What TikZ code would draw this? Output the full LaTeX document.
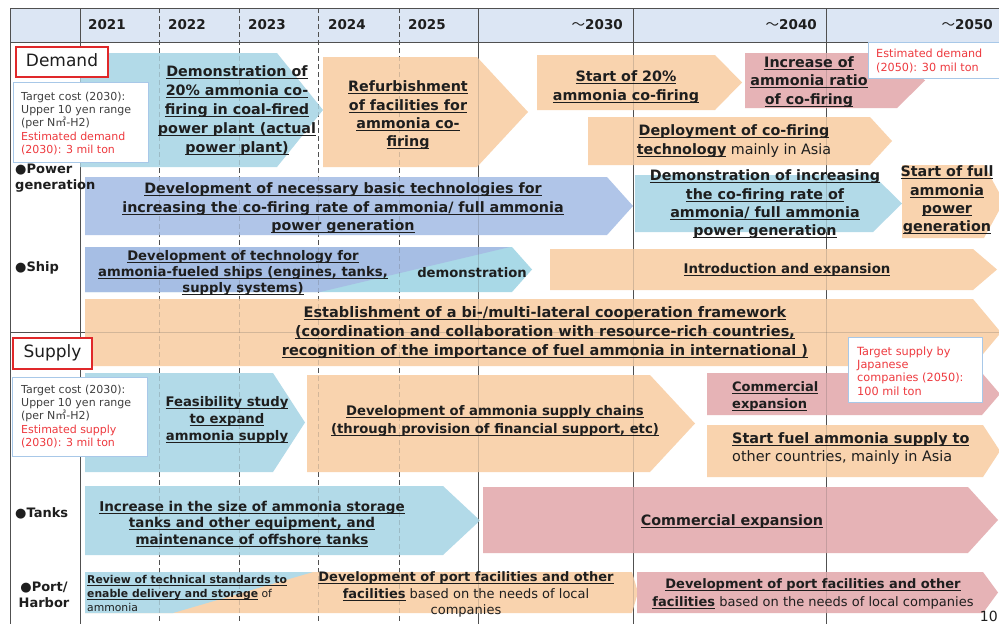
\documentclass[tikz,border=0pt]{standalone}
\usepackage{fontspec}
\setmainfont{DejaVu Sans}
\newfontfamily\cjk{Noto Sans CJK JP}
\newsavebox\ulbox
\newcommand\uln[1]{\sbox\ulbox{#1}\rlap{\rule[-2.2pt]{\wd\ulbox}{0.7pt}}\usebox\ulbox}
\newcommand\chevshape[6]{\fill[#1] (#2,#3) -- (#4,#3) -- (#5,{(#3+#6)/2}) -- (#4,#6) -- (#2,#6) -- cycle;}
\definecolor{hdr}{HTML}{DCE6F4}
\definecolor{lblue}{HTML}{B2DAE8}
\definecolor{mblue}{HTML}{B0C5E8}
\definecolor{dblue}{HTML}{A6BEE4}
\definecolor{cyanb}{HTML}{A9D9E7}
\definecolor{orng}{HTML}{F9D3AE}
\definecolor{pnk}{HTML}{E6B3B6}
\definecolor{txt}{HTML}{1E1E1E}
\definecolor{gridc}{HTML}{505050}
\definecolor{redbox}{HTML}{E0282A}
\definecolor{redtxt}{HTML}{EE3A3F}
\definecolor{graytxt}{HTML}{404040}
\definecolor{boxline}{HTML}{A8C8E8}
\newcommand\gridlines[1]{%
  \begin{scope}[opacity=#1]
  \draw[gridc, line width=0.9pt] (10,8) -- (999,8) (10,42) -- (999,42) (10,332) -- (999,332);
  \draw[gridc, line width=0.9pt] (10,8) -- (10,624) (80,8) -- (80,624) (478,8) -- (478,624) (633,8) -- (633,624) (826,8) -- (826,624);
  \draw[gridc, line width=0.9pt, dash pattern=on 5pt off 3pt] (159,8) -- (159,624) (239,8) -- (239,624) (318,8) -- (318,624) (399,8) -- (399,624);
  \end{scope}}
\tikzset{
  tx/.style 2 args={font=\fontsize{#1}{#2}\selectfont\bfseries, align=center, inner sep=0pt, text=txt},
  yr/.style={font=\fontsize{13.5}{15}\selectfont\bfseries, inner sep=0pt, text=txt},
  lbl/.style={font=\fontsize{13}{16}\selectfont\bfseries, inner sep=0pt, text=txt, align=left},
  info/.style={font=\fontsize{11}{13.3}\selectfont, align=left, inner sep=0pt, text=graytxt},
  infobox/.style={draw=boxline, fill=white, line width=0.8pt},
  redframe/.style={draw=redbox, fill=white, line width=2pt}
}
\begin{document}
\begin{tikzpicture}[x=1pt,y=-1pt]
\useasboundingbox (0,0) rectangle (999,624);
\clip (0,0) rectangle (999,624);
\fill[white] (0,0) rectangle (999,624);
\fill[hdr] (10,8) rectangle (999,42);
\gridlines{1}
% shapes
\chevshape{lblue}{80}{53}{277}{323}{167}
\chevshape{orng}{323}{57}{477}{528}{167}
\chevshape{orng}{537}{55}{715}{742}{110}
\chevshape{pnk}{745}{53}{897}{925}{108}
\chevshape{orng}{588}{117}{870}{892}{165}
\chevshape{mblue}{85}{177}{607}{633}{235}
\chevshape{lblue}{635}{175}{873}{902}{232}
\chevshape{orng}{902}{165}{984}{1004}{238}
\chevshape{cyanb}{85}{247}{512}{532}{292}
\fill[dblue] (85,247) -- (510,247) -- (320,292) -- (85,292) -- cycle;
\chevshape{orng}{550}{249}{973}{997}{290}
\chevshape{orng}{85}{299}{973}{1001}{366}
\chevshape{lblue}{85}{373}{273}{305}{472}
\chevshape{orng}{307}{375}{650}{695}{472}
\chevshape{pnk}{707}{373}{982}{1000}{415}
\chevshape{orng}{707}{425}{983}{1000}{477}
\chevshape{lblue}{85}{486}{443}{480}{555}
\chevshape{pnk}{483}{487}{968}{998}{553}
\chevshape{orng}{85}{572}{632}{638}{613}
\fill[lblue] (85,572) -- (313,572) -- (173,613) -- (85,613) -- cycle;
\chevshape{pnk}{637}{572}{983}{998}{613}
\gridlines{0.22}
% boxes
\draw[redframe] (16,47) rectangle (108,77);
\draw[infobox] (13,82) rectangle (148,162);
\draw[infobox] (868,42) rectangle (1010,78);
\draw[redframe] (13,338) rectangle (92,369);
\draw[infobox] (12,377) rectangle (147,456);
\draw[infobox] (848,337) rectangle (982,402);
% header
\node[yr, anchor=west] (y21) at (88,25) {2021};
\node[yr, anchor=west] (y22) at (168,25) {2022};
\node[yr, anchor=west] (y23) at (248,25) {2023};
\node[yr, anchor=west] (y24) at (328,25) {2024};
\node[yr, anchor=west] (y25) at (408,25) {2025};
\node[yr, anchor=east] (y30) at (623,25) {{\cjk\mdseries ～}2030};
\node[yr, anchor=east] (y40) at (817,25) {{\cjk\mdseries ～}2040};
\node[yr, anchor=east] (y50) at (993,25) {{\cjk\mdseries ～}2050};
% section labels
\node[font=\fontsize{17}{20}\selectfont, inner sep=0pt, text=txt] (demand) at (62,60.5) {Demand};
\node[font=\fontsize{17}{20}\selectfont, inner sep=0pt, text=txt] (supply) at (52.5,352.5) {Supply};
\node[info, anchor=west] (dinfo) at (21,123.5) {Target cost (2030):\\Upper 10 yen range\\(per N{\cjk ㎥}-H2)\\\textcolor{redtxt}{Estimated demand}\\\textcolor{redtxt}{(2030): 3 mil ton}};
\node[info, anchor=west] (sinfo) at (21,416.5) {Target cost (2030):\\Upper 10 yen range\\(per N{\cjk ㎥}-H2)\\\textcolor{redtxt}{Estimated supply}\\\textcolor{redtxt}{(2030): 3 mil ton}};
\node[info, anchor=west, text=redtxt, font=\fontsize{11.2}{14}\selectfont] (d50) at (876,61) {Estimated demand\\(2050): 30 mil ton};
\node[info, anchor=west, text=redtxt, font=\fontsize{11.3}{13.3}\selectfont] (s50) at (857,371) {Target supply by\\Japanese\\companies (2050):\\100 mil ton};
% row labels
\node[lbl, anchor=west] (lpow) at (15,178.5) {●Power\\generation};
\node[lbl, anchor=west] (lship) at (15,268) {●Ship};
\node[lbl, anchor=west] (ltank) at (15,513) {●Tanks};
\node[lbl, align=center] (lport) at (44,594.5) {●Port/\\Harbor};
% demand texts
\node[tx={14.3}{18.8}] (t1) at (237,110.5) {\uln{Demonstration of}\\\uln{20\% ammonia co-}\\\uln{firing in coal-fired}\\\uln{power plant (actual}\\\uln{power plant)}};
\node[tx={14.3}{18.3}] (t2) at (408,115.5) {\uln{Refurbishment}\\\uln{of facilities for}\\\uln{ammonia co-}\\\uln{firing}};
\node[tx={14.3}{19}] (t3) at (626,87.5) {\uln{Start of 20\%}\\\uln{ammonia co-firing}};
\node[tx={14.3}{18.5}] (t4) at (809,82) {\uln{Increase of}\\\uln{ammonia ratio}\\\uln{of co-firing}};
\node[tx={14.3}{19.5}] (t5) at (734,141) {\uln{Deployment of co-firing}\\\uln{technology}{\mdseries\ mainly in Asia}};
\node[tx={14.3}{18.5}] (t6) at (343,208.5) {\uln{Development of necessary basic technologies for}\\\uln{increasing the co-firing rate of ammonia/ full ammonia}\\\uln{power generation}};
\node[tx={14.3}{18.3}] (t7) at (765,204.5) {\uln{Demonstration of increasing}\\\uln{the co-firing rate of}\\\uln{ammonia/ full ammonia}\\\uln{power generation}};
\node[tx={14.3}{18.3}] (t8) at (947,200.5) {\uln{Start of full}\\\uln{ammonia}\\\uln{power}\\\uln{generation}};
\node[tx={13.2}{16}] (t9) at (243,273) {\uln{Development of technology for}\\\uln{ammonia-fueled ships (engines, tanks,}\\\uln{supply systems)}};
\node[tx={13.2}{16}] (t10) at (472,273) {demonstration};
\node[tx={13.3}{16}] (t11) at (787,270) {\uln{Introduction and expansion}};
\node[tx={14.5}{19}] (t12) at (545,333) {\uln{Establishment of a bi-/multi-lateral cooperation framework}\\\uln{(coordination and collaboration with resource-rich countries,}\\\uln{recognition of the importance of fuel ammonia in international )}};
% supply texts
\node[tx={13.2}{17}] (t13) at (227,420) {\uln{Feasibility study}\\\uln{to expand}\\\uln{ammonia supply}};
\node[tx={13.2}{18}] (t14) at (495,421) {\uln{Development of ammonia supply chains}\\\uln{(through provision of financial support, etc)}};
\node[tx={13}{17}, align=left, anchor=west] (t15) at (732,396.5) {\uln{Commercial}\\\uln{expansion}};
\node[tx={14.4}{18}, align=left, anchor=west] (t16) at (732,449) {\uln{Start fuel ammonia supply to}\\{\mdseries other countries, mainly in Asia}};
\node[tx={13.5}{16.5}] (t17) at (252,523.5) {\uln{Increase in the size of ammonia storage}\\\uln{tanks and other equipment, and}\\\uln{maintenance of offshore tanks}};
\node[tx={14.3}{18}] (t18) at (732,522) {\uln{Commercial expansion}};
\node[tx={10.8}{14}, align=left, anchor=west] (t19) at (87,593) {\uln{Review of technical standards to}\\\uln{enable delivery and storage}{\mdseries\ of}\\{\mdseries ammonia}};
\node[tx={13}{16.5}] (t20) at (466,594.5) {\uln{Development of port facilities and other}\\\uln{facilities}{\mdseries\ based on the needs of local}\\{\mdseries companies}};
\node[tx={13}{18}] (t21) at (813,594) {\uln{Development of port facilities and other}\\\uln{facilities}{\mdseries\ based on the needs of local companies}};
\node[font=\fontsize{14}{16}\selectfont, anchor=east, inner sep=0pt, text=txt] (pg) at (998,616) {10};
\end{tikzpicture}
\end{document}
